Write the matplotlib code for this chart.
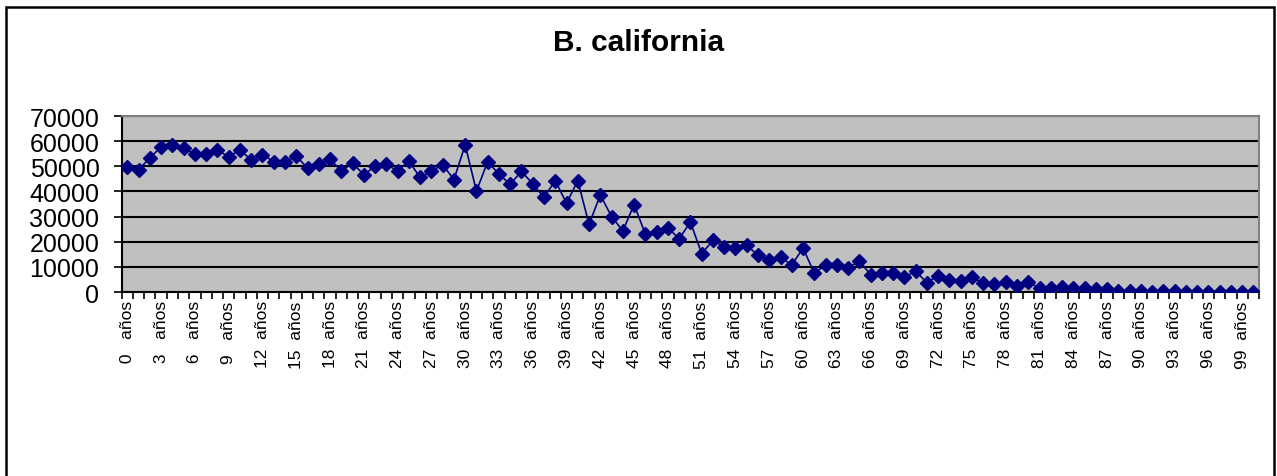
import matplotlib.pyplot as plt
from matplotlib.patches import Rectangle

plt.rcParams['font.family'] = ['Liberation Sans', 'DejaVu Sans']

# Datos: población por edad (0 a 100 años)
edades = list(range(0, 101))
poblacion = [
    49600, 48700, 53300, 57800, 58500, 57150, 54900, 55000, 56500, 53800,
    56600, 52500, 54600, 51900, 51900, 54000, 49350, 51100, 52800, 48150,
    51200, 46700, 50000, 50800, 48150, 52000, 45600, 48000, 50700, 44700,
    58500, 40100, 51900, 46800, 42900, 48000, 43000, 37700, 44300, 35300,
    44300, 26900, 38600, 30000, 24300, 34800, 23000, 23900, 25500, 21200,
    27800, 15300, 20500, 17900, 17500, 18650, 14550, 12800, 13900, 10700,
    17500, 7500, 10700, 10700, 9650, 12300, 6900, 7700, 7700, 5800,
    8300, 3700, 6500, 4900, 4300, 5800, 3700, 3250, 3900, 2500,
    3800, 1700, 1700, 1950, 1700, 1700, 1050, 1300, 450, 500,
    600, 100, 600, 500, 150, 150, 150, 150, 150, 150, 150,
]
etiquetas = [(' %d   años' % e) if e < 10 else ('%d  años' % e) for e in edades]
titulo = 'B. california'

fig = plt.figure(figsize=(12.77, 4.77), dpi=100)
ax = fig.add_axes([0.0953, 0.3857, 0.986 - 0.0953, 0.7547 - 0.3857])

ax.set_facecolor('#C0C0C0')
ax.plot(edades, poblacion, color='#000080', linewidth=1.2, marker='D',
        markersize=7, markerfacecolor='#000080', markeredgecolor='#000080', zorder=3)

ax.set_xlim(-0.5, 100.5)
ax.set_ylim(0, 70000)
ax.set_yticks(range(0, 70001, 10000))
ax.yaxis.grid(True, color='black', linewidth=1.5)
ax.set_axisbelow(True)

ax.set_xticks(edades[::3])
ax.set_xticklabels(etiquetas[::3], rotation=90, va='top', ha='center', fontsize=12.5)
ax.set_xticks([e - 0.5 for e in edades] + [100.5], minor=True)
ax.tick_params(axis='x', which='major', length=0, pad=6)
ax.tick_params(axis='x', which='minor', length=5, width=1.2, direction='out')
ax.tick_params(axis='y', length=6, width=1.2, direction='out', pad=10, labelsize=18)

ax.spines['left'].set_linewidth(1.5)
ax.spines['bottom'].set_linewidth(1.5)
ax.spines['top'].set_color('#808080')
ax.spines['right'].set_color('#808080')
ax.spines['top'].set_linewidth(1.5)
ax.spines['right'].set_linewidth(1.5)

fig.text(0.5, 0.91, titulo, ha='center', va='center', fontsize=21.5, fontweight='bold')

# marco exterior del gráfico
fig.patches.append(Rectangle((6 / 1277, -0.1), (1274 - 6) / 1277, 1.1 - 8 / 477,
                             transform=fig.transFigure, fill=False,
                             edgecolor='black', linewidth=1.8))

fig.savefig('out.png', dpi=100)
